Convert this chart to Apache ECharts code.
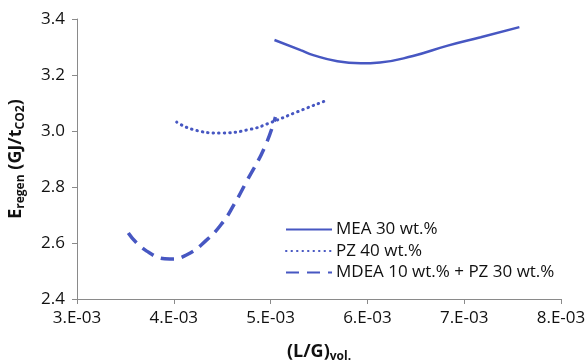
<!DOCTYPE html>
<html><head><meta charset="utf-8">
<script src="https://cdn.jsdelivr.net/npm/echarts@6/dist/echarts.min.js"></script>
<style>html,body{margin:0;padding:0;background:#fff}#c{width:587px;height:363px}</style>
</head><body><div id="c"></div>
<script>
const seriesNames = ['MEA 30 wt.%', 'PZ 40 wt.%', 'MDEA 10 wt.% + PZ 30 wt.%'];
const meaData = [[5.04e-3,3.325],[5.31e-3,3.289],[5.44e-3,3.271],[5.69e-3,3.249],[5.93e-3,3.242],[6.13e-3,3.245],[6.47e-3,3.268],[6.83e-3,3.305],[7.17e-3,3.335],[7.57e-3,3.371]];
const pzData = [[4.03e-3,3.032],[4.2e-3,3.005],[4.48e-3,2.993],[4.79e-3,3.006],[5.0e-3,3.03],[5.25e-3,3.065],[5.56e-3,3.107]];
const mdeaData = [[3.53e-3,2.636],[3.72e-3,2.571],[3.96e-3,2.543],[4.13e-3,2.557],[4.34e-3,2.611],[4.50e-3,2.671],[4.62e-3,2.736],[4.76e-3,2.825],[4.94e-3,2.943],[5.05e-3,3.05]];
const xTicks = {min: 0.003, max: 0.008, interval: 0.001};
const yTicks = {min: 2.4, max: 3.4, interval: 0.2};

const color = '#4757c2';
const chart = echarts.init(document.getElementById('c'));
const font = 'Open Sans';
const titleRich = {
  b: {fontFamily: font, fontWeight: 'bold', fontSize: 18, color: '#111'},
  s: {fontFamily: font, fontWeight: 'bold', fontSize: 12, color: '#111', padding: [10, 0, 0, 0]}
};
chart.setOption({
  animation: false,
  grid: {left: 77, right: 26, top: 19, bottom: 64, outerBoundsMode: 'none', containLabel: false},
  legend: {
    left: 285, top: 221, orient: 'vertical', padding: 0, itemGap: 4.5, itemWidth: 46, itemHeight: 18,
    itemStyle: {opacity: 0},
    textStyle: {fontFamily: font, fontSize: 17, color: '#111', padding: [0, 0, 0, -1]},
    data: seriesNames
  },
  xAxis: {
    type: 'value', min: xTicks.min, max: xTicks.max, interval: xTicks.interval,
    name: '{b|(L/G)}{s|vol.}', nameLocation: 'middle', nameGap: 42,
    nameTextStyle: {rich: titleRich},
    splitLine: {show: false},
    axisLine: {lineStyle: {color: '#8a8a8a', width: 1}},
    axisTick: {lineStyle: {color: '#8a8a8a'}, length: 5},
    axisLabel: {fontFamily: font, fontSize: 17, color: '#111', margin: 11,
      formatter: v => Math.round(v * 1000) + '.E-03'}
  },
  yAxis: {
    type: 'value', min: yTicks.min, max: yTicks.max, interval: yTicks.interval,
    name: '{b|E}{s|regen}{b| (GJ/t}{s|CO2}{b|)}', nameLocation: 'middle', nameGap: 50, nameRotate: 90,
    nameTextStyle: {rich: titleRich},
    splitLine: {show: false},
    axisLine: {show: true, lineStyle: {color: '#8a8a8a', width: 1}},
    axisTick: {show: true, lineStyle: {color: '#8a8a8a'}, length: 5},
    axisLabel: {fontFamily: font, fontSize: 17, color: '#111', margin: 12, formatter: v => v.toFixed(1)}
  },
  series: [
    {name: seriesNames[0], type: 'line', data: meaData, smooth: true, symbol: 'none',
     lineStyle: {color: color, width: 2.5, type: 'solid'}, itemStyle: {color: color}},
    {name: seriesNames[1], type: 'line', data: pzData, smooth: true, symbol: 'none',
     lineStyle: {color: color, width: 3, type: [0.5, 5], cap: 'round'}, itemStyle: {color: color}},
    {name: seriesNames[2], type: 'line', data: mdeaData, smooth: true, symbol: 'none',
     lineStyle: {color: color, width: 3.5, type: [13, 8]}, itemStyle: {color: color}}
  ]
});
</script></body></html>
